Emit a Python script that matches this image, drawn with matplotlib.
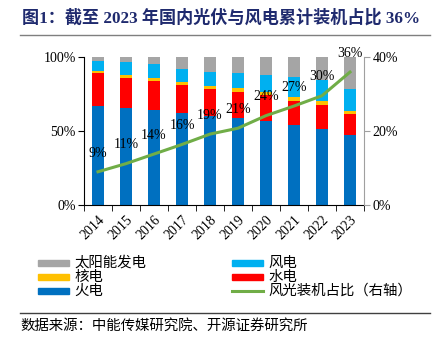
import matplotlib
matplotlib.use("Agg")
import matplotlib.pyplot as plt
from matplotlib.patches import Rectangle
from matplotlib.lines import Line2D
import numpy as np

plt.rcParams['font.family'] = ['Liberation Serif', 'Noto Sans CJK SC', 'DejaVu Sans']

years = ['2014', '2015', '2016', '2017', '2018', '2019', '2020', '2021', '2022', '2023']
fire = [67.3, 65.5, 64.1, 62.1, 60.0, 59.1, 56.7, 54.4, 51.7, 47.2]
hydro = [22.1, 20.7, 19.9, 19.2, 18.6, 17.4, 17.5, 16.3, 16.2, 14.7]
nuclear = [1.6, 1.8, 2.0, 2.0, 2.0, 2.5, 2.0, 2.2, 2.3, 2.0]
wind = [6.7, 8.8, 9.3, 9.0, 9.7, 10.6, 12.1, 14.0, 14.2, 14.9]
solar = [2.3, 3.2, 4.7, 7.7, 9.7, 10.4, 11.7, 13.1, 15.6, 21.2]
share = [9.0, 11.2, 13.8, 16.4, 19.2, 20.8, 24.2, 26.8, 29.6, 36.0]

series = [('火电', fire, '#0070C0'), ('水电', hydro, '#FF0000'),
          ('核电', nuclear, '#FFC000'), ('风电', wind, '#00B0F0'),
          ('太阳能发电', solar, '#A5A5A5')]
line_color = '#70AD47'
line_label = '风光装机占比（右轴）'

W, H = 440, 348
fig = plt.figure(figsize=(W / 100, H / 100), dpi=100)

def fx(px):
    return px / W

def fy(py):
    return 1 - py / H

ax = fig.add_axes([fx(84), fy(205), fx(364) - fx(84), fy(57.3) - fy(205)])
x = np.arange(len(years))
bottom = np.zeros(len(years))
for name, vals, col in series:
    ax.bar(x, vals, width=0.4, bottom=bottom, color=col, zorder=2)
    bottom += np.array(vals)

ax.set_xlim(-0.5, len(years) - 0.5)
ax.set_ylim(0, 100)
ax.set_yticks([0, 50, 100])
ax.set_yticklabels(['0%', '50%', '100%'], fontsize=10)
ax.set_xticks(x)
ax.set_xticklabels(years, rotation=45, ha='right', va='top', fontsize=10,
                   rotation_mode='anchor')
ax.tick_params(axis='x', length=0, pad=6)
ax.set_xticks(np.arange(-0.5, len(years), 1.0), minor=True)
ax.tick_params(axis='x', which='minor', length=4, direction='out', color='black')
ax.tick_params(axis='y', length=4, direction='out', color='black', pad=2)
ax.spines['top'].set_visible(False)
ax.spines['right'].set_visible(False)
ax.spines['left'].set_color('black')
ax.spines['bottom'].set_color('black')

ax2 = ax.twinx()
ax2.plot(x, share, color=line_color, lw=2.2, zorder=3)
ax2.set_ylim(0, 40)
ax2.set_yticks([0, 20, 40])
ax2.set_yticklabels(['0%', '20%', '40%'], fontsize=10)
ax2.tick_params(axis='y', length=4, direction='out', color='#A0A0A0', pad=2)
for s in ['top', 'left', 'bottom']:
    ax2.spines[s].set_visible(False)
ax2.spines['right'].set_color('#A0A0A0')
for xi, v in zip(x, share):
    ax2.annotate(f"{round(v)}%", (xi, v), xytext=(0, 13.5), textcoords='offset points',
                 ha='center', va='center', fontsize=10, color='black', zorder=4)

# title
fig.text(fx(22), fy(18), '图1：截至 2023 年国内光伏与风电累计装机占比 36%', fontsize=12.3,
         fontweight='bold', color='#1F2A6E', ha='left', va='center')
fig.add_artist(Line2D([fx(20), fx(430)], [fy(35), fy(35)], color='#7F7F7F', lw=1))

# legend
items = [('太阳能发电', '#A5A5A5', 0, 0, 'p'), ('核电', '#FFC000', 0, 1, 'p'),
         ('火电', '#0070C0', 0, 2, 'p'), ('风电', '#00B0F0', 1, 0, 'p'),
         ('水电', '#FF0000', 1, 1, 'p'), (line_label, line_color, 1, 2, 'l')]
colx = [38, 232]
rowy = [262.5, 276.5, 291]
for lab, col, c, r, kind in items:
    x0 = colx[c]
    yc = rowy[r]
    if kind == 'p':
        fig.add_artist(Rectangle((fx(x0), fy(yc + 3)), fx(31), 6 / H, color=col,
                                 transform=fig.transFigure))
    else:
        fig.add_artist(Line2D([fx(x0), fx(x0 + 31)], [fy(yc), fy(yc)], color=col, lw=2.2))
    fig.text(fx(x0 + 36), fy(yc), lab, fontsize=10.4, ha='left', va='center',
             family=['Noto Sans CJK SC', 'DejaVu Sans'])

fig.add_artist(Line2D([fx(20), fx(430)], [fy(313), fy(313)], color='#404040', lw=1))
fig.text(fx(20), fy(326), '数据来源：中能传媒研究院、开源证券研究所', fontsize=10.4,
         ha='left', va='center', family=['Noto Sans CJK SC', 'DejaVu Sans'])

fig.savefig('out.png', dpi=100)
